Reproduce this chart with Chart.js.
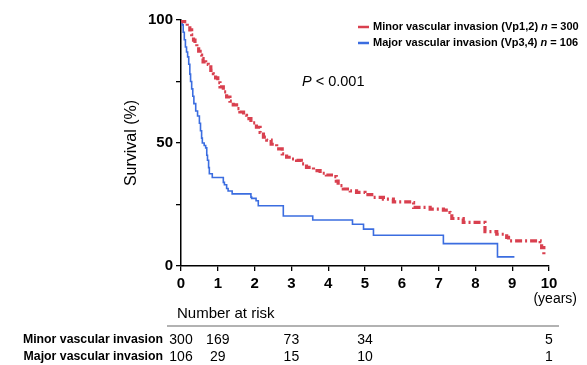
<!DOCTYPE html>
<html>
<head>
<meta charset="utf-8">
<script src="https://cdn.jsdelivr.net/npm/chart.js@4"></script>
<style>
  body { margin: 0; background: #fff; }
  #wrap { width: 587px; height: 365px; position: relative; }
</style>
</head>
<body>
<div id="wrap"><canvas id="km"></canvas></div>
<script>
// Curvas Kaplan-Meier (años, % supervivencia)
const minorTimes = [0, 0.05, 0.1, 0.17, 0.24, 0.29, 0.34, 0.38, 0.43, 0.48, 0.52, 0.56, 0.6, 0.67, 0.74, 0.81, 0.88, 0.94, 1.0, 1.06, 1.15, 1.24, 1.33, 1.42, 1.51, 1.6, 1.7, 1.78, 1.9, 2.05, 2.15, 2.24, 2.33, 2.45, 2.6, 2.75, 2.87, 3.0, 3.14, 3.27, 3.41, 3.6, 3.78, 3.95, 4.14, 4.22, 4.27, 4.41, 4.6, 4.77, 5.0, 5.23, 5.5, 5.77, 6.27, 6.32, 6.77, 7.13, 7.31, 7.36, 7.67, 8.22, 8.26, 8.58, 8.85, 8.9, 9.76, 9.8, 9.86];
const minorSurv  = [100, 99.3, 98.6, 97.5, 96, 94, 91.8, 90.5, 89, 87.3, 85.7, 84.3, 83, 82, 81, 79.5, 78.2, 76.5, 74.5, 72.8, 70.8, 68.7, 67, 65.5, 64, 62.6, 61.2, 59.9, 58.2, 56.4, 54.3, 52.4, 51.2, 49.5, 47.6, 45.6, 44.2, 43.5, 42.9, 41.5, 40.1, 38.8, 37.7, 37, 36.3, 34.5, 32.7, 31.3, 30.5, 29.9, 29, 27.9, 27.2, 26.1, 25.8, 23.8, 23.1, 22.7, 21.8, 19.3, 17.7, 17.7, 14, 12.9, 11.6, 10.2, 9.9, 7.5, 4.8];

const majorTimes = [0, 0.03, 0.06, 0.09, 0.12, 0.15, 0.18, 0.21, 0.24, 0.26, 0.29, 0.32, 0.35, 0.4, 0.45, 0.5, 0.53, 0.56, 0.58, 0.63, 0.67, 0.7, 0.72, 0.75, 0.77, 0.85, 1.15, 1.18, 1.24, 1.28, 1.39, 1.9, 1.92, 2.04, 2.1, 2.78, 3.58, 4.66, 4.96, 5.23, 7.13, 8.6, 9.06];
const majorSurv  = [100, 98, 95, 92, 89, 87, 85, 82, 78, 75, 72, 69, 66, 63, 61, 58, 55, 52, 50, 49, 48, 45, 43, 40, 37.5, 36, 34, 33, 31.5, 30.5, 29.3, 28, 27.5, 26.5, 24.5, 20.3, 18.7, 17, 15, 12.5, 9.1, 3.7, 3.7];

// Numero en riesgo
const riskYears = [0, 1, 3, 5, 10];
const minorRisk = [300, 169, 73, 34, 5];
const majorRisk = [106, 29, 15, 10, 1];

const minorLabel = 'Minor vascular invasion';
const majorLabel = 'Major vascular invasion';

const RED = '#d9404f';
const BLUE = '#3b6de0';
const FONT = "'Liberation Sans', Arial, sans-serif";

function toPoints(xs, ys) {
    return xs.map((x, i) => ({ x: x, y: ys[i] }));
}

// Dibuja texto con partes en cursiva (para "n" y "P")
function drawRich(ctx, parts, x, y, size, weight) {
    let cx = x;
    parts.forEach(p => {
        ctx.font = (p.italic ? 'italic ' : '') + weight + ' ' + size + 'px ' + FONT;
        ctx.fillText(p.text, cx, y);
        cx += ctx.measureText(p.text).width;
    });
}

const extras = {
    id: 'extras',
    afterDraw(chart) {
        const { ctx, scales: { x } } = chart;
        ctx.save();
        ctx.fillStyle = '#000';
        ctx.textBaseline = 'middle';
        ctx.textAlign = 'left';

        // leyenda
        const legend = [
            { color: RED, y: 27, parts: [{ text: minorLabel + ' (Vp1,2) ' }, { text: 'n', italic: true }, { text: ' = 300' }] },
            { color: BLUE, y: 43, parts: [{ text: majorLabel + ' (Vp3,4) ' }, { text: 'n', italic: true }, { text: ' = 106' }] }
        ];
        legend.forEach(l => {
            ctx.strokeStyle = l.color;
            ctx.lineWidth = 2.5;
            ctx.beginPath();
            ctx.moveTo(358, l.y);
            ctx.lineTo(369, l.y);
            ctx.stroke();
            ctx.fillStyle = '#000';
            drawRich(ctx, l.parts, 373, l.y, 11, 'bold');
        });

        // valor P
        drawRich(ctx, [{ text: 'P', italic: true }, { text: ' < 0.001' }], 302, 82, 14.5, 'normal');

        // (years)
        ctx.font = '14px ' + FONT;
        ctx.textAlign = 'right';
        ctx.fillText('(years)', 577, 299);

        // Number at risk
        ctx.textAlign = 'left';
        ctx.textBaseline = 'alphabetic';
        ctx.font = '15px ' + FONT;
        ctx.fillText('Number at risk', 177, 318);
        ctx.strokeStyle = '#999';
        ctx.lineWidth = 1.5;
        ctx.beginPath();
        ctx.moveTo(167, 326);
        ctx.lineTo(559, 326);
        ctx.stroke();

        ctx.textBaseline = 'middle';
        const rows = [
            { label: minorLabel, vals: minorRisk, y: 340 },
            { label: majorLabel, vals: majorRisk, y: 357 }
        ];
        rows.forEach(r => {
            ctx.font = 'bold 12.3px ' + FONT;
            ctx.textAlign = 'right';
            ctx.fillText(r.label, 163, r.y);
            ctx.font = '14px ' + FONT;
            ctx.textAlign = 'center';
            r.vals.forEach((v, i) => {
                ctx.fillText(String(v), x.getPixelForValue(riskYears[i]), r.y);
            });
        });
        ctx.restore();
    }
};

new Chart(document.getElementById('km'), {
    type: 'line',
    data: {
        datasets: [
            {
                label: minorLabel,
                data: toPoints(minorTimes, minorSurv),
                borderColor: RED,
                borderWidth: 3.2,
                borderDash: [7, 3, 2, 3],
                stepped: true,
                pointRadius: 0,
                fill: false
            },
            {
                label: majorLabel,
                data: toPoints(majorTimes, majorSurv),
                borderColor: BLUE,
                borderWidth: 1.6,
                stepped: true,
                pointRadius: 0,
                fill: false
            }
        ]
    },
    options: {
        responsive: true,
        maintainAspectRatio: false,
        animation: false,
        layout: { padding: { left: 118, top: 20, right: 38, bottom: 69 } },
        plugins: {
            legend: { display: false },
            tooltip: { enabled: false }
        },
        scales: {
            x: {
                type: 'linear',
                min: 0,
                max: 10,
                afterFit(scale) { scale.height = 30; },
                border: { display: true, color: '#000', width: 1.5 },
                grid: { drawOnChartArea: false, drawTicks: true, tickLength: 5, color: '#000', lineWidth: 1.3 },
                ticks: {
                    stepSize: 1,
                    autoSkip: false,
                    maxRotation: 0,
                    padding: 4,
                    color: '#000',
                    font: { family: FONT, size: 15, weight: 'bold' }
                }
            },
            y: {
                min: 0,
                max: 100,
                afterFit(scale) { scale.width = 63; },
                border: { display: true, color: '#000', width: 1.5 },
                grid: { drawOnChartArea: false, drawTicks: true, tickLength: 5, color: '#000', lineWidth: 1.3 },
                ticks: {
                    stepSize: 25,
                    padding: 3,
                    color: '#000',
                    font: { family: FONT, size: 15, weight: 'bold' },
                    callback: v => (v % 50 === 0 ? v : '')
                },
                title: {
                    display: true,
                    text: 'Survival (%)',
                    color: '#000',
                    font: { family: FONT, size: 16 }
                }
            }
        }
    },
    plugins: [extras]
});
</script>
</body>
</html>
